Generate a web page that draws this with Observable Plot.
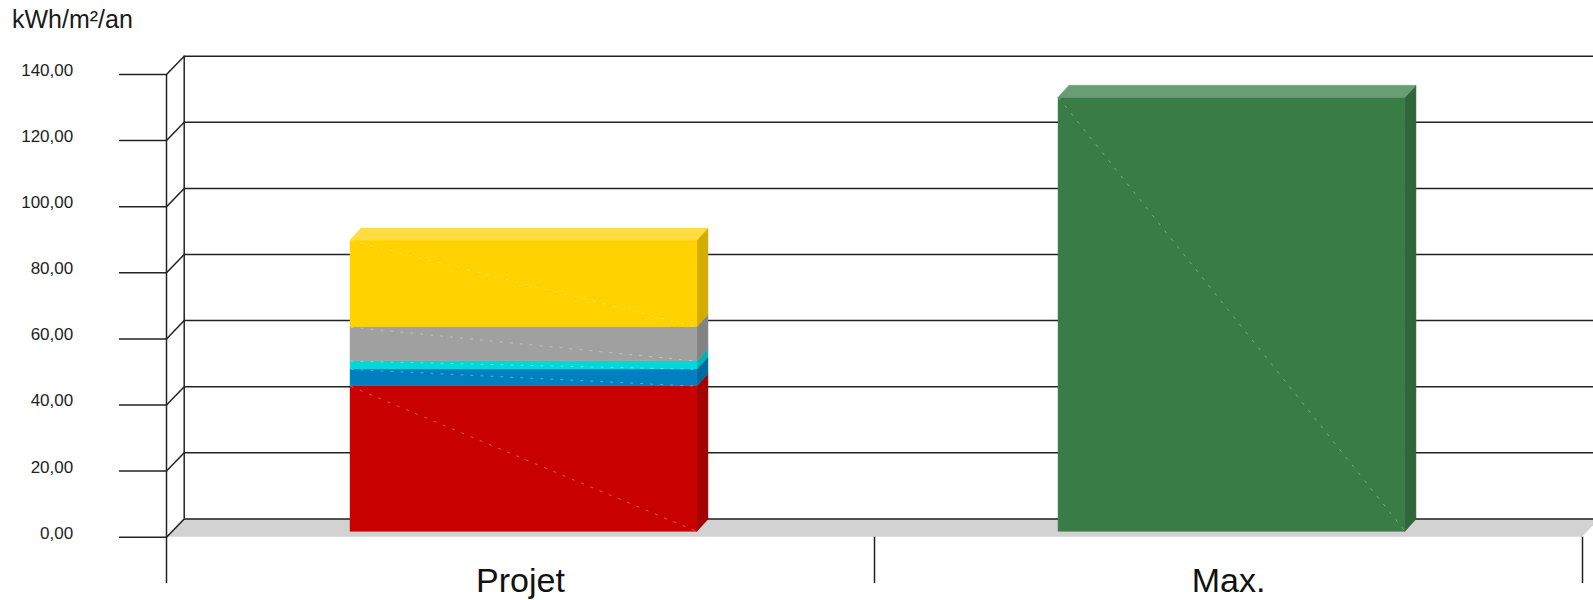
<!DOCTYPE html>
<html><head><meta charset="utf-8">
<script src="https://cdn.jsdelivr.net/npm/d3@7"></script>
<script src="https://cdn.jsdelivr.net/npm/@observablehq/plot@0.6"></script>
<style>
html,body{margin:0;padding:0;background:#fff;overflow:hidden}
#title{font-family:"Liberation Sans",Arial,sans-serif;font-size:25px;line-height:25px;height:44px;box-sizing:border-box;padding:7px 0 0 12px;color:#1a1a1a}
#chart svg{display:block}
</style></head><body>
<div id="title">kWh/m²/an</div>
<div id="chart"></div>
<script>
// ---- data ----
const categories = ["Projet", "Max."];
const projetKeys = ["Poste 1", "Poste 2", "Poste 3", "Poste 4", "Poste 5"];
const projetValues = [44.0, 5.1, 2.5, 10.3, 26.2];
const projetColors = ["#c80000", "#0080c0", "#00d8d8", "#a0a0a0", "#ffd200"];
const maxKeys = ["Max."];
const maxValues = [131.3];
const maxColors = ["#3a7c45"];
const yTicks = [0, 20, 40, 60, 80, 100, 120, 140];
const yTickLabels = ["0,00", "20,00", "40,00", "60,00", "80,00", "100,00", "120,00", "140,00"];

// ---- layout ----
const W = 1593, H = 556;
const mL = 166, mR = 11, mT = 30, mB = 63.3;
const kx = (W - mL - mR) / 2;          // px per x unit
const ky = (H - mT - mB) / 140;        // px per y unit
const wallDX = 17.7, wallDY = 18.3;    // wall depth (px)
const barOX = 3.5, barOY = 5.5;        // bar front offset (px)
const barDX = 11, barDY = 12;          // bar depth (px)
const wx = wallDX / kx, wy = wallDY / ky;
const bx = barDX / kx, by = barDY / ky;
const barHalf = 0.245;
const lineColor = "#222";

// ---- build segments ----
const segs = [];
function addBar(ci, keys, values, colors) {
  let acc = 0;
  values.forEach((v, j) => {
    const c = categories[ci];
    segs.push({id: c + "-" + keys[j], ci, xL: ci + 0.5 - barHalf, xR: ci + 0.5 + barHalf,
      y0: acc, y1: acc + v, color: colors[j], last: j === values.length - 1});
    acc += v;
  });
}
addBar(0, projetKeys, projetValues, projetColors);
addBar(1, maxKeys, maxValues, maxColors);

const sidePts = segs.flatMap(s => {
  const col = d3.color(s.color).darker(0.55).formatHex();
  return [{id: s.id, x: s.xR, ya: s.y0, yb: s.y1, color: col},
          {id: s.id, x: s.xR + bx, ya: s.y0 + by, yb: s.y1 + by, color: col}];
});
const topPts = segs.filter(s => s.last).flatMap(s => {
  const col = d3.interpolateRgb(s.color, "#ffffff")(0.25);
  return [{id: s.id, y: s.y1, xa: s.xL, xb: s.xR, color: col},
          {id: s.id, y: s.y1 + by, xa: s.xL + bx, xb: s.xR + bx, color: col}];
});
const floorPts = [{y: 0, xa: 0, xb: 2}, {y: wy, xa: wx, xb: 2 + wx}];

const barOpts = {dx: barOX, dy: -barOY};

const plot = Plot.plot({
  width: W, height: H,
  marginLeft: mL, marginRight: mR, marginTop: mT, marginBottom: mB,
  x: {domain: [0, 2], axis: null},
  y: {domain: [0, 140], axis: null},
  color: {type: "identity"},
  style: {fontFamily: "'Liberation Sans', Arial, sans-serif", background: "#fff", overflow: "hidden"},
  marks: [
    // floor
    Plot.area(floorPts, {x1: "xa", x2: "xb", y1: "y", fill: "#d2d2d2"}),
    // back wall gridlines
    Plot.ruleY(yTicks, {y: d => d + wy, x1: wx, x2: 2 + wx + 0.05, stroke: lineColor, strokeWidth: 1.5}),
    // left wall back edge
    Plot.ruleX([wx], {y1: wy, y2: 140 + wy, stroke: lineColor, strokeWidth: 1.5}),
    // left wall diagonals
    Plot.link(yTicks, {x1: 0, y1: d => d, x2: wx, y2: d => d + wy, stroke: lineColor, strokeWidth: 1.5}),
    // front axis ticks
    Plot.ruleY(yTicks, {x1: -47 / kx, x2: 0, stroke: lineColor, strokeWidth: 1.5}),
    // front axis line
    Plot.ruleX([0], {y1: -46.3 / ky, y2: 140, stroke: lineColor, strokeWidth: 1.5}),
    // category separators
    Plot.ruleX([1, 2], {y1: -46.3 / ky, y2: 0, stroke: lineColor, strokeWidth: 1.5}),
    // bars: sides
    Plot.area(sidePts, {x1: "x", y1: "ya", y2: "yb", z: "id", fill: "color", stroke: "color", strokeWidth: 0.5, ...barOpts}),
    // bars: fronts
    Plot.rect(segs, {x1: "xL", x2: "xR", y1: "y0", y2: "y1", fill: "color", stroke: "color", strokeWidth: 0.5, ...barOpts}),
    // faint render diagonals
    Plot.link(segs, {x1: "xL", y1: "y1", x2: "xR", y2: "y0", stroke: "#ffffff", strokeOpacity: 0.35, strokeDasharray: "3,7", ...barOpts}),
    // bars: tops
    Plot.area(topPts, {x1: "xa", x2: "xb", y1: "y", z: "id", fill: "color", stroke: "color", strokeWidth: 0.5, ...barOpts}),
    // y tick labels
    Plot.text(yTicks, {y: d => d, text: (d, i) => yTickLabels[i], frameAnchor: "left", textAnchor: "end",
      dx: -93.3, dy: -4, fontSize: 17, fill: "#222"}),
    // category labels
    Plot.text(categories, {x: (d, i) => i + 0.5, y: () => 0, text: d => d, lineAnchor: "bottom",
      dy: 54.3, fontSize: 34, fill: "#111"})
  ]
});
document.getElementById("chart").appendChild(plot);
</script>
</body></html>
